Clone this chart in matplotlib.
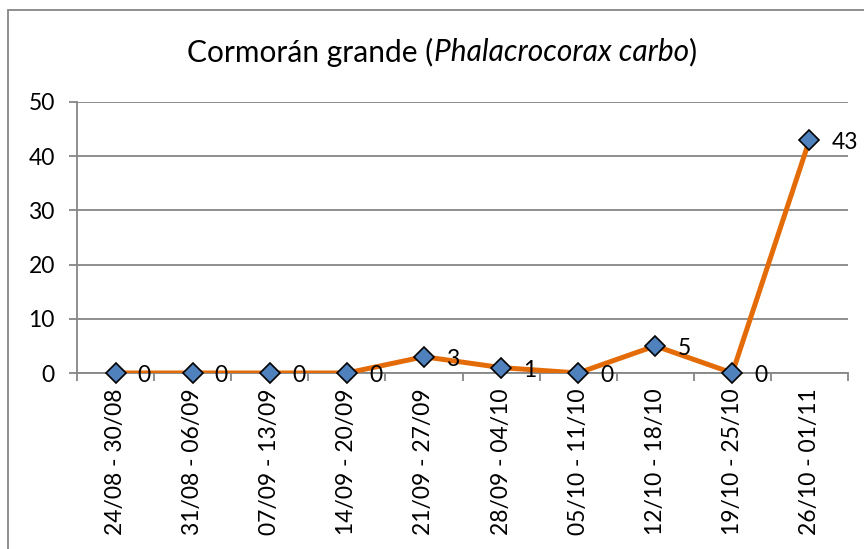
import matplotlib
matplotlib.use("Agg")
import matplotlib.pyplot as plt
from matplotlib.patches import Rectangle

# weekly counts
weeks = ["24/08 - 30/08", "31/08 - 06/09", "07/09 - 13/09", "14/09 - 20/09",
         "21/09 - 27/09", "28/09 - 04/10", "05/10 - 11/10", "12/10 - 18/10",
         "19/10 - 25/10", "26/10 - 01/11"]
counts = [0, 0, 0, 0, 3, 1, 0, 5, 0, 43]
yticks = [0, 10, 20, 30, 40, 50]

plt.rcParams['font.family'] = ['Lato', 'DejaVu Sans']
grey = '#868686'
fs = 16.5

fig = plt.figure(figsize=(8.64, 5.49), dpi=100)
ax = fig.add_axes([77/864, 1-373/549, (848-77)/864, (373-102)/549])

x = list(range(len(counts)))
ax.plot(x, counts, color='#E36C09', lw=3.6, zorder=3, solid_joinstyle='round')
ax.plot(x, counts, ls='none', marker='D', ms=10, mfc='#4F81BD', mec='black',
        mew=1.2, zorder=4, clip_on=False)
for xi, v in zip(x, counts):
    ax.annotate(str(v), (xi, v), xytext=(16, -2), textcoords='offset points',
                ha='left', va='center', fontsize=fs, zorder=5)

ax.set_xlim(-0.5, len(counts) - 0.5)
ax.set_ylim(0, 50)
ax.set_yticks(yticks)
ax.set_xticks(x)
ax.set_xticklabels(weeks, rotation=90)
ax.set_xticks([i - 0.5 for i in range(len(counts) + 1)], minor=True)
ax.tick_params(axis='x', which='major', length=0, pad=11, labelsize=fs)
ax.tick_params(axis='x', which='minor', length=6, width=1.3, color=grey, direction='out')
ax.tick_params(axis='y', length=6, width=1.3, color=grey, pad=10, labelsize=fs)
ax.yaxis.grid(True, color=grey, lw=1.3)
ax.set_axisbelow(True)
for s in ['top', 'right']:
    ax.spines[s].set_visible(False)
for s in ['left', 'bottom']:
    ax.spines[s].set_color(grey)
    ax.spines[s].set_linewidth(1.3)

# chart frame (cropped at right and bottom)
fig.patches.append(Rectangle((8/864, -0.1), 1.2, 1 - 10/549 + 0.1,
                             transform=fig.transFigure, fill=False,
                             ec=grey, lw=1.3))

# title with italic species name
parts = [("Cormorán grande (", 'normal'), ("Phalacrocorax carbo", 'italic'), (")", 'normal')]
texts = [fig.text(0, 1 - 52/549, p, fontsize=21.5, style=st, va='center', ha='left')
         for p, st in parts]
fig.canvas.draw()
r = fig.canvas.get_renderer()
widths = [t.get_window_extent(r).width for t in texts]
xpos = 442 - sum(widths) / 2
for t, w in zip(texts, widths):
    t.set_x(xpos / 864)
    xpos += w

fig.savefig("out.png", dpi=100)
